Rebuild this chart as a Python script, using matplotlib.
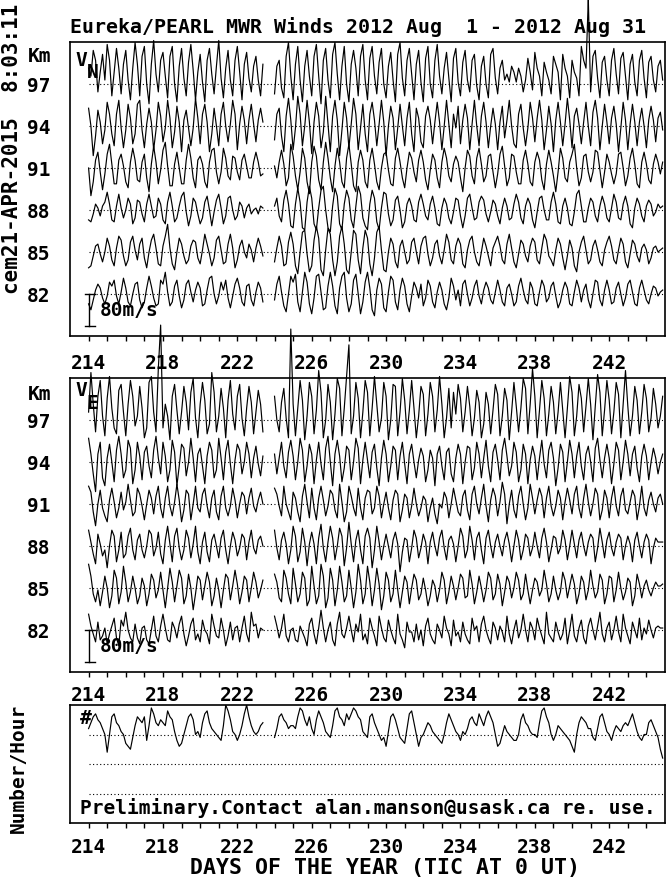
import numpy as np
import matplotlib
matplotlib.use("Agg")
import matplotlib.pyplot as plt

nan = np.nan
FONT = "DejaVu Sans Mono"
plt.rcParams['font.family'] = [FONT, 'DejaVu Sans']

first_day = 214
per_day = 8          # samples per day (every 3 h)
levels = [82, 85, 88, 91, 94, 97]
tick_days = list(range(214, 245))
label_days = [214, 218, 222, 226, 230, 234, 238, 242]
scale_ms = 80        # scale bar (m/s)
scale_km = 2.26      # height of the scale bar in km units

# ---------------- Meridional wind V_N (m/s), 8 values per day, days 214..244 ----------------
vn82 = [-25, -40, -15, 10, 25, 15, -10, -25,   -5, 30, 20, 35, -5, -25, 5, 40,
        15, -20, -30, 0, 25, 30, -15, -35,   -20, 15, 45, 20, -10, -30, -25, 35,
        25, 55, 5, -30, -20, 20, 35, -5,   -35, -15, 25, 35, 5, -20, 10, 30,
        15, -30, -25, 10, 40, 45, 0, -25,   -5, 30, 10, 35, -10, -35, -5, 25,
        40, 15, -20, -30, 20, 25, -15, -30,   5, 30, 15, -20, nan, nan, nan, nan,
        -15, 25, 45, 5, -30, -45, 0, 45,   30, 50, -20, -45, 5, 55, 30, -25,
        -50, -10, 45, 50, 5, -40, -35, 20,   55, 20, -30, -50, 15, 45, 55, -10,
        -45, -25, 35, 50, 0, -50, -20, 30,   55, 15, -40, -55, 10, 40, 25, -35,
        -45, 5, 45, 35, -20, -40, 10, 40,   20, -25, -45, -5, 30, 15, -10, 25,
        -30, -10, 35, 20, -20, -35, 5, 30,   10, -25, -40, -10, 40, 20, -15, 10,
        -30, 25, 35, 0, -30, -10, 20, 35,   -5, -25, 10, 30, 15, -15, -25, 5,
        35, 10, -20, -30, 15, 25, 0, -30,   -20, 20, 40, 10, -15, -25, 30, 15,
        -25, -30, 5, 35, 20, -20, -10, 20,   30, -5, -35, -20, 10, 30, 15, -25,
        -30, 5, 35, 15, -20, 10, 25, -15,   -35, 0, 35, 30, -15, -30, 10, 35,
        10, -25, -20, 15, 30, 0, -30, -10,   25, 35, 5, -25, -30, 15, 35, 10,
        -15, -25, 0, 20, 15, -5, 5, 10]
vn85 = [-40, -35, -10, 15, 20, -5, -25, 0,   35, 15, -20, -35, 10, 40, 30, -10,
        -35, -20, 25, 40, 5, -20, 20, 35,   -15, -40, 0, 30, 45, 10, -30, -35,
        15, 40, 70, 10, -30, -45, 0, 35,   20, -10, -30, -20, 15, 30, 25, -15,
        -30, 5, 45, 20, -5, -35, -15, 30,   40, 5, -30, -25, 20, 45, 10, -40,
        -20, 15, 30, 0, -15, 20, 5, -25,   10, 35, 15, -10, nan, nan, nan, nan,
        -25, 10, 40, 15, -35, -30, 25, 50,   20, -35, -55, 0, 50, 55, -5, -50,
        -35, 30, 65, 35, -45, -60, 5, 60,   45, -20, -60, -25, 40, 65, 20, -45,
        -55, 0, 55, 45, -20, -55, 10, 55,   35, -30, -60, -15, 50, 65, 5, -45,
        -50, 0, 35, 20, -25, -40, 15, 30,   0, -30, -20, 25, 35, 0, -30, 15,
        35, 40, -5, -35, -15, 20, 30, -10,   -30, 5, 45, 25, -20, -30, 15, 35,
        20, -30, -40, 5, 30, 40, 0, -25,   -35, 0, 35, 15, -10, -35, 10, 25,
        40, 15, -20, -30, 20, 45, 10, -25,   -40, -5, 30, 20, -10, -25, 15, 35,
        25, -20, -30, 10, 45, 30, -10, -20,   -35, 5, 35, 20, -15, -45, -10, 30,
        10, -35, -50, 0, 25, 40, 5, -30,   -20, 15, 30, 5, -25, -35, 5, 25,
        40, 15, -20, -30, 5, 35, 20, -25,   -40, -5, 30, 20, -10, -25, 10, 20,
        5, -30, -15, 10, 15, 0, 5, 10]
vn88 = [-25, -30, -10, 15, 5, -15, 10, 20,   45, 15, -25, -30, 10, 40, 5, -20,
        0, 30, 15, -35, -20, 25, 20, -10,   -30, 15, 40, 10, -20, -15, 30, 15,
        -25, -35, 20, 45, 10, -30, -20, 10,   35, 45, -5, -40, -15, 30, 20, -10,
        -35, -20, 20, 35, 0, -40, -5, 25,   40, 5, -35, -15, 30, 35, 0, -25,
        -15, 20, 10, -20, 5, 15, -10, 0,   5, -10, 10, 5, nan, nan, nan, nan,
        10, 30, -15, -30, 25, 50, 15, -40,   -45, 15, 55, 20, -45, -50, 20, 60,
        30, -35, -50, 5, 50, 60, 0, -45,   -55, 10, 55, 35, -35, -50, 15, 50,
        30, -25, -45, 10, 60, 40, -20, -40,   -50, 15, 50, 30, -30, -50, 5, 45,
        40, -10, -40, -25, 25, 35, 0, -45,   -30, 15, 30, 10, -25, -30, 20, 40,
        15, -15, -25, 15, 35, 5, -35, -40,   5, 30, 15, -20, -35, -5, 30, 25,
        -15, -45, -15, 30, 40, 5, -25, -20,   20, 35, 25, -10, -30, -5, 25, 15,
        -15, -35, 5, 30, 10, -25, -20, 15,   40, 20, -20, -35, 10, 30, 15, -25,
        -45, -5, 30, 35, 0, -25, -25, 20,   45, 15, -30, -35, 10, 30, 5, -35,
        -40, -5, 40, 50, 10, -30, -30, 5,   30, 20, -15, -30, 10, 35, 15, -20,
        -30, 5, 40, 20, -20, -25, 15, 35,   10, -35, -45, 5, 30, 15, -15, -30,
        10, 25, 15, -15, -5, 15, 5, 10]
vn91 = [0, -70, -35, 20, 40, -10, -55, -15,   35, 60, 10, -40, -40, 20, 35, 5,
        -35, -50, 15, 50, 20, -30, -35, 15,   35, -25, -60, 10, 55, 15, -40, -5,
        45, 65, 5, -45, -45, 10, 40, 0,   -40, -40, 20, 60, 25, -25, -50, 20,
        30, 10, -35, -50, 15, 45, 50, -10,   -40, -10, 50, 25, -20, -30, 30, 25,
        -10, -30, 20, 35, 5, -25, -25, 15,   40, 15, -20, -15, nan, nan, nan, nan,
        5, -25, 15, 45, 10, -45, -25, 60,   30, -20, -55, -10, 50, 25, -35, -65,
        15, 55, 30, -30, -55, 15, 65, 25,   -25, -60, 5, 50, 15, -35, -50, 25,
        60, 10, -45, -60, 15, 45, 20, -35,   -50, 20, 50, 10, -35, -55, 0, 35,
        40, -5, -40, -45, 25, 50, 15, -25,   -50, 0, 40, 25, -10, -35, 20, 45,
        15, -30, -55, -5, 35, 20, -25, -50,   15, 50, 25, -20, -35, 10, 30, 15,
        -25, -60, 0, 45, 30, -20, -40, 25,   50, 10, -35, -20, 30, 35, -10, -50,
        -15, 35, 55, 5, -45, -25, 35, 30,   -10, -40, -40, 20, 45, 10, -35, -45,
        15, 40, 20, -30, -55, 10, 45, 15,   -20, -60, -10, 50, 25, -25, -35, 15,
        35, 60, 0, -45, -25, 30, 35, -10,   -35, -10, 45, 40, -5, -50, -10, 35,
        15, -15, -40, -15, 35, 40, 0, -45,   -20, 25, 50, 10, -40, -50, 15, 40,
        10, -30, -40, 10, 35, 15, -15, 15]
vn94 = [45, 0, -75, -25, 40, 10, -45, -10,   60, 30, -20, -50, 30, 65, -5, -55,
        -10, 55, 20, -45, -20, 55, 65, -10,   -55, 5, 45, 10, -60, -10, 60, 25,
        -40, -5, 65, 20, -55, -15, 50, 10,   -65, 15, 40, -5, -50, -5, 70, 20,
        -45, 30, 55, 10, -65, -20, 45, 0,   -50, 30, 60, 0, -40, 5, 65, 30,
        -60, 5, 50, 15, -45, 15, 55, 5,   -40, 15, 45, 10, nan, nan, nan, nan,
        -35, 30, 45, -25, -65, 25, 70, 15,   -60, -5, 75, 30, -50, 0, 65, 10,
        -70, 10, 60, 25, -55, -15, 75, 5,   -65, 25, 65, 15, -75, -10, 60, 20,
        -55, 5, 70, 30, -60, -5, 55, -20,   -65, 30, 60, 15, -50, 5, 65, 10,
        -75, 0, 50, 20, -60, -5, 55, 0,   -50, 20, 60, -20, -65, 45, 20, -40,
        -55, 25, 50, 15, -45, 10, 60, 10,   -60, 0, 65, 5, -55, 30, -5, 50,
        -45, 15, 55, 20, -60, 5, 65, 0,   -50, 25, 60, 10, -55, 0, 45, 5,
        -60, 10, 50, -30, 15, 65, 0, -45,   -55, 30, 55, -5, -50, -5, 60, 20,
        -40, 20, 65, 15, -60, -10, 50, 5,   -65, 15, 60, 10, -50, 5, 70, 15,
        -55, 25, 45, 5, -45, 10, 60, 0,   -50, 35, 65, 20, -60, 0, 55, 10,
        -45, 20, 50, 5, -65, -5, 60, 15,   -60, 5, 55, 10, -50, 10, 45, 0,
        -55, 15, 50, 15, -40, 20, 35, -10]
vn97 = [40, 20, 85, 60, -20, 30, 75, 10,   100, 60, -30, 30, 90, 40, -25, 50,
        85, 10, -40, 40, 105, 50, -30, 70,   95, 0, -50, 50, 110, 25, -20, 60,
        80, 20, -35, 70, 95, 0, -45, 45,   90, 15, -30, 55, 100, 35, -40, 30,
        75, 5, -45, 60, 90, 25, -25, 45,   110, 15, -35, 40, 85, 10, -30, 60,
        95, 30, -40, 50, 80, 15, -20, 45,   70, 10, -30, 50, nan, nan, nan, nan,
        -25, 45, 60, -10, -35, 70, 105, 20,   -40, 50, 95, 10, -45, 45, 85, 20,
        -30, 70, 100, 20, -50, 60, 90, 10,   -35, 75, 105, 25, -40, 45, 95, 0,
        -45, 50, 85, 40, -30, 70, 100, 10,   -40, 65, 95, 20, -25, 55, 90, 0,
        -35, 45, 80, 10, -45, 75, 105, 15,   -30, 60, 90, 25, -40, 50, 85, 5,
        -45, 65, 95, 0, -35, 60, 100, 20,   -25, 40, 80, 15, -45, 65, 90, 5,
        -30, 55, 85, 10, -20, 60, 75, -5,   -40, 45, 70, 0, -35, 75, 90, 15,
        -25, 40, 60, 10, 25, 5, 45, 30,   5, 40, 20, -20, 10, 65, 30, -15,
        80, 40, 20, -30, 55, 30, 10, -25,   70, 50, 30, -40, 75, 40, 20, -35,
        60, 30, 15, -30, 95, 60, 40, 215,   -20, 70, 85, 15, -35, 55, 70, 10,
        -30, 60, 90, 25, -25, 65, 80, 20,   -40, 50, 75, 5, -30, 60, 85, 15,
        -35, 55, 70, 10, -20, 45, 60, 10]

# ---------------- Zonal wind V_E (m/s) ----------------
ve82 = [40, 10, -10, -30, 20, -25, -15, 5,   -35, -10, 10, 30, -20, -40, 25, 10,
        45, 0, -20, -30, 15, -20, -35, 5,   10, -25, -35, 0, 35, -15, -30, 10,
        40, 5, -25, -30, 20, 5, -20, 15,   35, -10, -40, -15, 15, 30, -25, -10,
        -30, 25, 0, -10, -35, 40, 10, -15,   -20, 30, 0, -40, -15, 20, -25, 5,
        10, -30, 5, 35, -10, -30, 45, 10,   15, -20, 5, 0, nan, nan, nan, nan,
        35, 10, -20, 5, 40, -15, -30, 0,   5, -25, -30, 10, -5, -20, -40, 15,
        30, -10, -35, 5, 50, 5, -30, 0,   20, -25, -40, 15, 45, -10, -20, 5,
        35, 0, -30, 15, -5, 40, -25, -10,   -35, 30, 5, -15, -40, 35, 5, -20,
        -30, 25, 0, -20, -35, 40, -10, -25,   -45, 20, -5, -5, -30, 15, -25, 0,
        -40, 10, 30, -10, -25, -35, 15, 0,   -20, 35, 5, -10, -40, 25, -15, -5,
        -30, 20, -10, -25, -35, 30, 0, 10,   -30, 15, 35, 0, -20, -35, 20, 5,
        -25, 10, -5, -30, 35, -10, -35, 0,   25, -20, 0, 40, 0, -30, 20, 5,
        -25, 30, 5, -15, -35, 45, -10, -20,   -30, 20, -5, -25, -10, 30, -35, 0,
        40, -15, -30, 5, 25, -20, -35, 10,   30, 0, -25, 10, 45, -10, -30, 5,
        20, -25, 0, 35, -5, -30, 40, 5,   -15, -35, 20, 0, -20, 30, -25, 5,
        -10, 25, 0, -20, 5, 10, 5, 5]
ve85 = [60, 30, -15, -35, -5, -45, -10, 30,   0, -50, -20, 45, 25, -40, -10, 55,
        15, -35, -10, 30, 0, -40, -20, 25,   5, -45, -15, 35, 20, -25, -5, 40,
        -5, -50, 0, 50, 15, -35, 5, 45,   25, -40, -20, 35, 0, -55, -15, 30,
        20, -30, 5, 40, 15, -45, -20, 25,   -5, -50, -5, 35, 25, -30, 5, 45,
        10, -40, -10, 30, 20, -35, 0, 40,   15, -25, -5, 20, nan, nan, nan, nan,
        35, 15, -25, -35, 45, 25, -15, -40,   50, 10, -35, -15, 40, 25, -45, -30,
        55, 5, -40, -20, 60, 30, -50, -25,   50, 20, -45, -5, 55, 15, -35, -20,
        45, 0, -50, -10, 60, 20, -40, -15,   55, 15, -45, -5, 50, 10, -55, -20,
        40, 20, -35, -15, 45, -5, -50, -10,   30, 15, -40, 0, 35, 20, -30, -15,
        25, -5, -45, -20, 20, 5, -35, -5,   40, 20, -40, -10, 30, 5, -30, 0,
        35, 25, -25, -20, 45, 10, -40, -10,   30, 0, -35, -5, 40, 25, -30, -15,
        35, 10, -45, -10, 30, 15, -25, 0,   40, 20, -30, -15, 35, -5, -40, -5,
        25, 15, -20, -5, 45, 10, -35, -15,   30, -5, -30, -10, 40, 20, -25, 5,
        35, 10, -40, -15, 30, 15, -30, -5,   45, 5, -25, -10, 35, 20, -40, -15,
        30, 25, -35, -5, 40, 0, -30, -10,   25, 15, -45, -20, 35, 10, -25, 5,
        20, -5, -20, 0, 15, 5, 5, 10]
ve88 = [40, 10, -20, -45, 30, 5, -25, -10,   -55, 0, 40, 25, -40, -10, 35, -30,
        -20, 25, 45, -10, -35, 15, 30, -10,   -30, 0, 40, 30, -25, -5, 35, -20,
        -45, 15, 50, 5, -40, 25, 45, -5,   -35, -10, 40, 20, -30, 5, 50, -15,
        -45, 10, 35, -15, -40, 15, 30, 0,   -30, 20, 40, -10, -45, 0, 35, 15,
        -25, -5, 30, 20, -35, 10, 40, -5,   -20, 15, 25, 0, nan, nan, nan, nan,
        40, -5, -35, 15, 35, 5, -45, -10,   50, 25, -40, -15, 45, 10, -50, 5,
        35, 5, -45, 20, 55, -5, -40, 10,   50, 20, -35, 0, 45, 25, -50, -5,
        60, 5, -40, 15, 40, -10, -45, 25,   45, 20, -55, -10, 50, 10, -35, 0,
        30, 0, -30, 15, 35, 5, -65, -15,   20, 15, -40, -5, 40, 20, -30, -5,
        30, 10, -45, 10, 35, 0, -25, 20,   40, -5, -35, 15, 25, 5, -40, 0,
        45, 25, -30, -10, 50, 15, -35, 20,   35, -10, -45, 20, 40, 0, -30, 10,
        30, 0, -25, 15, 35, 5, -40, 0,   40, 15, -35, -10, 30, 20, -25, -5,
        35, 0, -30, 20, 45, 10, -40, -10,   25, 20, -20, -5, 40, 15, -35, 0,
        40, 5, -30, 15, 35, 0, -25, 10,   30, 20, -40, -5, 45, 10, -30, 15,
        35, -5, -25, 10, 30, 20, -35, 0,   25, 5, -40, 15, 35, 0, -30, 10,
        30, 15, -45, -5, 20, 10, 10, 10]
ve91 = [45, 30, -20, -55, 0, 35, -10, -30,   -45, 10, 40, 5, -35, -10, 30, -15,
        5, 50, 10, -30, -20, 40, 25, -5,   -40, 0, 35, 15, -25, 20, 45, -10,
        -35, 15, 45, -5, -30, 5, 50, 10,   -45, -15, 35, 25, -40, 0, 45, -10,
        -20, 25, 40, -5, -35, 15, 35, -20,   -40, 20, 45, -10, -30, -5, 40, 10,
        -35, 0, 30, 20, -25, 15, 40, -5,   -20, 10, 30, 0, nan, nan, nan, nan,
        40, 25, -5, -30, 45, 0, -20, -40,   30, 15, -20, -45, 20, 50, 5, -35,
        40, -10, -40, 15, 45, 10, -30, -5,   35, 25, -15, -35, 50, 5, -45, -20,
        45, 20, -10, -30, 40, -10, -40, 15,   35, 30, -25, -10, 45, 20, -35, 0,
        30, -10, -40, 10, 35, 25, -45, -15,   25, 15, -35, -5, 40, 0, -30, -10,
        20, 10, -45, -10, 15, -25, -50, 0,   -10, 30, 15, -35, 0, 40, 10, -20,
        -30, 20, 35, -15, -40, 25, 45, 0,   -25, 15, 50, -5, -45, 10, 40, 20,
        -30, 5, 55, 25, -50, 0, 35, -15,   -35, 20, 45, 0, -40, -10, 50, 15,
        -25, 10, 40, 20, -35, 15, 45, -5,   -30, -5, 35, 15, -40, 5, 40, 10,
        -25, 25, 45, -10, -35, 15, 50, 5,   -30, 0, 40, 25, -40, -15, 35, 15,
        -35, 15, 45, -5, -30, 20, 40, -15,   -25, 5, 35, 20, -40, -5, 45, -10,
        -30, 10, 30, 0, -20, 15, 25, 0]
ve94 = [60, 20, -30, -75, 20, 50, -40, -60,   10, 45, 0, -50, 30, 65, 20, -40,
        -20, 55, 35, -55, -20, 50, 15, -45,   25, 40, -10, -40, 30, 65, 10, -30,
        50, 15, -50, -20, 55, 25, -60, -10,   45, 35, -35, 0, 60, 10, -50, 20,
        35, -10, -55, 15, 50, 30, -40, -20,   60, 10, -45, 25, 55, -5, -55, 5,
        45, 30, -30, 0, 50, 20, -40, 10,   40, -5, -35, 15, nan, nan, nan, nan,
        20, -30, 10, 50, -10, -40, 25, 55,   15, -45, 0, 60, 30, -50, -10, 45,
        20, -55, 5, 50, -5, -45, 35, 65,   0, -60, 20, 55, 15, -50, -15, 40,
        30, -45, 0, 60, 35, -55, 5, 50,   5, -40, 25, 45, -15, -60, 10, 55,
        20, -50, -10, 40, 30, -45, 15, 50,   -5, -55, 20, 45, 0, -40, 5, 35,
        15, -50, -20, 30, 10, -60, 20, 40,   -10, -45, 25, 35, -30, -50, 10, 45,
        20, -55, 0, 40, 35, -45, -15, 50,   20, -40, 10, 55, -10, -50, 25, 45,
        5, -45, 30, 60, 15, -35, -10, 50,   25, -50, -20, 45, 20, -55, 5, 40,
        15, -45, 10, 55, -5, -40, 30, 50,   10, -60, -15, 45, 25, -50, 0, 55,
        20, -40, 15, 50, -10, -45, 20, 40,   0, -50, 35, 60, 5, -40, 10, 45,
        10, -55, -5, 50, 30, -45, 0, 55,   20, -35, 20, 40, -15, -50, 15, 45,
        15, -45, 0, 35, 10, -30, 0, 20]
ve97 = [20, 120, 40, -30, 60, 100, 10, -40,   55, 110, 30, -20, -35, 75, 90, 20,
        -40, 40, 100, 60, -15, 10, 85, 30,   -45, -20, 95, 110, 20, -30, 130, 240,
        -20, 40, 10, -50, 60, 90, 25, -35,   20, 85, 45, -25, 70, 105, 5, -45,
        40, 95, 50, -35, -10, 120, 70, -30,   10, 80, 30, -45, 50, 100, 15, -25,
        60, 90, 5, -40, 30, 85, 45, -35,   20, 75, 40, -30, nan, nan, nan, nan,
        60, 0, -30, 45, 80, 5, -45, 230,   40, -40, 30, 100, 50, -50, 10, 95,
        60, -35, 25, 125, 70, -45, 0, 90,   45, -50, 15, 105, 80, -40, 30, 110,
        190, -35, 10, 95, 55, -45, 20, 100,   70, -40, 30, 110, 40, -30, 5, 95,
        60, -50, 0, 90, 85, -40, 20, 105,   50, -35, 25, 100, 30, -45, 10, 85,
        65, -40, 15, 95, 60, -30, 25, 110,   40, -45, 5, 80, -20, 70, 15, 90,
        55, -30, 20, 85, 35, -40, 5, 75,   45, -45, -10, 70, 40, -35, 25, 90,
        65, -40, 10, 80, 50, -50, 20, 95,   35, -30, 30, 105, 80, -35, 40, 130,
        60, -45, 25, 100, 55, -40, 15, 85,   45, -35, 20, 95, 25, -45, 30, 110,
        70, -40, 10, 90, 55, -30, 35, 105,   40, -50, 35, 115, 70, -40, 25, 100,
        50, -35, 20, 95, 65, -45, 40, 125,   35, -40, 10, 85, 50, -35, 20, 90,
        55, -30, 5, 80, 40, -20, 10, 60]

# ---------------- Meteors per hour (bottom panel) ----------------
counts = [32, 34, 36, 37, 35, 34, 32, 30,   24, 30, 36, 37, 34, 33, 31, 30,
          27, 26, 25, 29, 33, 36, 35, 34,   36, 28, 33, 39, 37, 34, 33, 35,
          34, 33, 38, 36, 35, 31, 28, 26,   27, 30, 33, 36, 37, 35, 30, 31,
          29, 34, 37, 38, 34, 32, 31, 30,   29, 28, 33, 40, 38, 35, 31, 30,
          28, 30, 33, 37, 40, 36, 33, 31,   30, 31, 33, 34, nan, nan, nan, nan,
          29, 32, 36, 37, 35, 34, 32, 33,   33, 32, 36, 39, 38, 35, 33, 36,
          32, 30, 35, 38, 36, 34, 31, 30,   29, 33, 38, 39, 36, 35, 33, 37,
          35, 37, 39, 38, 36, 35, 31, 30,   29, 36, 37, 34, 32, 30, 28, 29,
          26, 31, 36, 37, 35, 32, 29, 28,   27, 32, 37, 38, 34, 30, 26, 29,
          30, 32, 34, 33, 31, 30, 29, 28,   27, 30, 34, 37, 35, 33, 31, 30,
          28, 31, 30, 32, 35, 36, 34, 33,   37, 35, 33, 36, 38, 36, 34, 30,
          26, 27, 30, 33, 31, 30, 29, 28,   28, 30, 35, 37, 34, 33, 31, 30,
          30, 29, 34, 38, 39, 36, 34, 30,   28, 30, 33, 32, 31, 30, 29, 28,
          26, 24, 30, 34, 36, 35, 34, 32,   32, 29, 28, 32, 36, 37, 34, 31,
          30, 28, 31, 33, 32, 31, 33, 34,   33, 35, 37, 34, 31, 29, 28, 30,
          30, 34, 35, 33, 31, 29, 25, 22]

vn_series = [vn82, vn85, vn88, vn91, vn94, vn97]
ve_series = [ve82, ve85, ve88, ve91, ve94, ve97]
n = 31 * per_day
for name, s in zip(['vn82', 'vn85', 'vn88', 'vn91', 'vn94', 'vn97',
                    've82', 've85', 've88', 've91', 've94', 've97', 'counts'],
                   vn_series + ve_series + [counts]):
    assert len(s) == n, (name, len(s))

W, H = 672, 877
fig = plt.figure(figsize=(W / 100, H / 100), dpi=100)
TW = 'bold'


def rect(x0, y0, x1, y1):
    return [x0 / W, 1 - y1 / H, (x1 - x0) / W, (y1 - y0) / H]


def ftext(x, y, s, **kw):
    kw.setdefault('fontsize', 14)
    kw.setdefault('family', FONT)
    kw.setdefault('fontweight', TW)
    fig.text(x / W, 1 - y / H, s, **kw)


ax1 = fig.add_axes(rect(70, 42, 665, 336))
ax2 = fig.add_axes(rect(70, 378, 665, 672))
ax3 = fig.add_axes(rect(70, 705, 665, 823))

t = first_day + np.arange(n) / per_day

for ax, series, pad in [(ax1, vn_series, 9.5), (ax2, ve_series, 6.5)]:
    ax.set_xlim(213, 245)
    ax.set_ylim(79, 100)
    for lev, v in zip(levels, series):
        ax.plot([214, 245], [lev, lev], color='k', lw=0.8, ls=(0, (1, 2.2)))
        y = lev + np.asarray(v, dtype=float) * scale_km / scale_ms
        ax.plot(t, y, color='k', lw=0.85, clip_on=False)
    ax.set_yticks(levels)
    ax.set_yticklabels([str(l) for l in levels], fontsize=14, family=FONT, fontweight=TW)
    ax.tick_params(axis='y', length=0, pad=14)
    ax.set_xticks(tick_days)
    ax.set_xticklabels([str(d) if d in label_days else '' for d in tick_days],
                       fontsize=14, family=FONT, fontweight=TW)
    ax.tick_params(axis='x', direction='out', length=3.5, width=1, pad=pad)
    # scale bar
    ax.plot([214, 214], [82, 82 - scale_km], color='k', lw=1)
    for yy in (82, 82 - scale_km):
        ax.plot([213.8, 214.35], [yy, yy], color='k', lw=1)
    for sp in ax.spines.values():
        sp.set_linewidth(1.2)

ax3.set_xlim(213, 245)
ax3.set_ylim(0, 40)
for lev in (10, 20, 30):
    ax3.plot([214, 245], [lev, lev], color='k', lw=0.8, ls=(0, (1, 2.2)))
ax3.plot(t, counts, color='k', lw=0.85)
ax3.set_yticks([])
ax3.set_xticks(tick_days)
ax3.set_xticklabels([str(d) if d in label_days else '' for d in tick_days],
                    fontsize=14, family=FONT, fontweight=TW)
ax3.tick_params(axis='x', direction='out', length=3.5, width=1, pad=7)
for sp in ax3.spines.values():
    sp.set_linewidth(1.2)

# texts
ftext(70, 27, "Eureka/PEARL MWR Winds 2012 Aug  1 - 2012 Aug 31", ha='left', va='center',
      fontsize=14.3)
ftext(12, 149, "cem21-APR-2015  8:03:11", rotation=90, ha='center', va='center', fontsize=15)
ftext(40, 57, "Km", ha='center', va='center')
ftext(40, 394, "Km", ha='center', va='center')
ftext(81, 61, "V", ha='center', va='center')
ftext(93, 72, "N", ha='center', va='center')
ftext(81, 391, "V", ha='center', va='center')
ftext(92, 403, "E", ha='center', va='center')
ftext(100, 311, "80m/s", ha='left', va='center')
ftext(100, 646, "80m/s", ha='left', va='center')
ftext(80, 719, "#", ha='left', va='center')
ftext(80, 808, "Preliminary.Contact alan.manson@usask.ca re. use.", ha='left', va='center')
ftext(18, 768, "Number/Hour", rotation=90, ha='center', va='center')
ftext(385, 868, "DAYS OF THE YEAR (TIC AT 0 UT)", ha='center', va='center', fontsize=15.5)

fig.savefig("out.png", dpi=100)
